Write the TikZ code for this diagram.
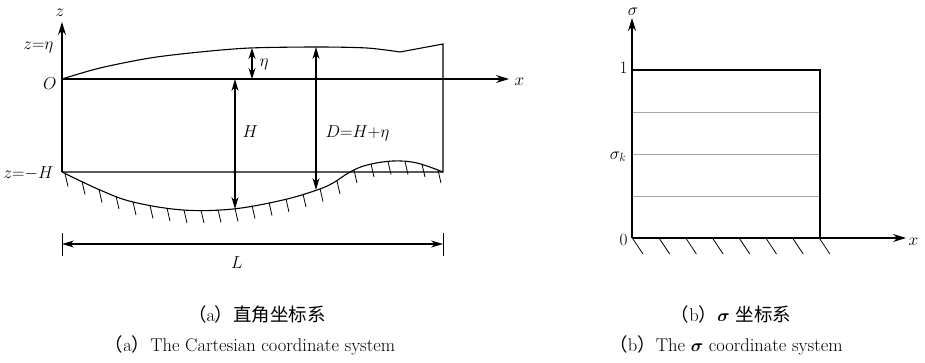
\documentclass[tikz,border=0pt]{standalone}
\usepackage{amsmath}
\usepackage{bm}
\usepackage{fontspec}
\newfontfamily\cjk{Noto Sans CJK SC}
\usetikzlibrary{
  arrows.meta  % Stealth 箭头样式
}

\begin{document}
\begin{tikzpicture}[>={Stealth[length=12pt, width=7pt]}, x=1pt, y=-1pt,
  line width=1.1pt,
  axis/.style={-{Stealth[length=13pt, width=8pt]}, line width=1.3pt},
  dim/.style={<->, line width=1.1pt},
  lab/.style={font=\fontsize{17.5}{20}\selectfont, inner sep=0pt},
  captext/.style={font=\fontsize{18.5}{22}\selectfont, inner sep=0pt, anchor=base},
  hatch/.style={line width=0.8pt},
  layer/.style={line width=0.8pt, black!35}
]
  \useasboundingbox (0,0) rectangle (925,362);

  % === (a) 直角坐标系 ===
  \coordinate (O)    at (62,79);
  \coordinate (zTop) at (62,22);
  \coordinate (xEnd) at (509,79);
  \coordinate (botL) at (62,172);
  \coordinate (botR) at (443,172);
  \coordinate (surfR) at (443,44);

  % 坐标轴
  \draw[axis] (botL) -- (zTop);
  \draw[axis] (O) -- (xEnd);

  % 自由水面 + 右边界 + z=-H 线
  \draw plot[smooth] coordinates {(62,79) (100,68) (150,58) (200,52) (250,48)
        (317,47) (367,48) (400,52)} -- (surfR) -- (botR) -- (botL);

  % 河床
  \draw plot[smooth, tension=0.6] coordinates {(62,172) (100,190) (133,202)
        (183,210) (233,209) (283,200) (317,190) (333,183) (350,172) (367,165)
        (393,161) (417,163) (443,172)};
  % 河床斜线
  \foreach \x/\y in {65/173.5, 82/181.5, 99/189.5, 116/196, 133/202, 150/205.5,
      167/208, 184/210, 201/210, 218/209.5, 235/208.5, 252/205.5, 269/202.5,
      286/199, 303/194, 320/188.5, 337/181, 354/170, 371/164, 388/161.5,
      405/161.5, 422/164, 438/170}
    \draw[hatch] (\x,\y) -- ++(3,13);

  % 尺寸箭头 η、H、D
  \coordinate (etaT) at (252,48);  \coordinate (etaB) at (252,79);
  \coordinate (HT)   at (235,79);  \coordinate (HB)   at (235,209);
  \coordinate (DT)   at (316,47);  \coordinate (DB)   at (316,190);
  \draw[dim, {Stealth[length=11pt, width=7pt]}-{Stealth[length=11pt, width=7pt]}]
    (etaT) -- (etaB);
  \draw[dim] (HT) -- (HB);
  \draw[dim] (DT) -- (DB);

  % 长度 L
  \coordinate (LL) at (62,244);  \coordinate (LR) at (443,244);
  \draw[line width=0.7pt] (62,233) -- (62,256) (443,233) -- (443,256);
  \draw[dim] (LL) -- (LR);

  % 标注
  \node[lab, anchor=base]      (lz)    at (60,16)   {$z$};
  \node[lab, anchor=base east] (leta)  at (54,49)   {$z{=}\eta$};
  \node[lab, anchor=base east] (lO)    at (57,89)   {$O$};
  \node[lab, anchor=base east] (lmH)   at (54,178)  {$z{=}{-}H$};
  \node[lab, anchor=base west] (lx)    at (514,85)  {$x$};
  \node[lab, anchor=base west] (ldeta) at (259,66)  {$\eta$};
  \node[lab, anchor=base west] (lH)    at (242,137) {$H$};
  \node[lab, anchor=base west] (lD)    at (325,137) {$D{=}H{+}\eta$};
  \node[lab, anchor=base]      (lL)    at (237,268) {$L$};

  % === (b) σ 坐标系 ===
  \coordinate (S0)   at (632,238);
  \coordinate (S1)   at (632,70);
  \coordinate (sTop) at (632,18);
  \coordinate (xR)   at (906,238);
  \coordinate (boxT) at (820,70);
  \coordinate (boxB) at (820,238);

  \draw[axis] (S0) -- (sTop);
  \draw[axis] (S0) -- (xR);
  \draw (S1) -- (boxT) -- (boxB);
  \foreach \y in {112,154,196}
    \draw[layer] (633,\y) -- (819,\y);
  \foreach \i in {0,...,7}
    \draw[hatch] ({633+26.7*\i},239) -- ++(10,15);

  \node[lab, anchor=base]      (lsig) at (633,15)  {$\sigma$};
  \node[lab, anchor=base east] (l1)   at (628,73)  {$1$};
  \node[lab, anchor=base east] (lsk)  at (627,159) {$\sigma_k$};
  \node[lab, anchor=base east] (l0)   at (628,245) {$0$};
  \node[lab, anchor=base west] (lx2)  at (908,245) {$x$};

  % === 图题 ===
  \node[captext] (capa)  at (257,321) {{\cjk （}a{\cjk ）直角坐标系}};
  \node[captext] (capae) at (250,351) {{\cjk （}a{\cjk ）}The Cartesian coordinate system};
  \node[captext] (capb)  at (731,321) {{\cjk （}b{\cjk ）}$\bm{\sigma}$ {\cjk 坐标系}};
  \node[captext] (capbe) at (726,351) {{\cjk （}b{\cjk ）}The $\bm{\sigma}$ coordinate system};
\end{tikzpicture}
\end{document}
